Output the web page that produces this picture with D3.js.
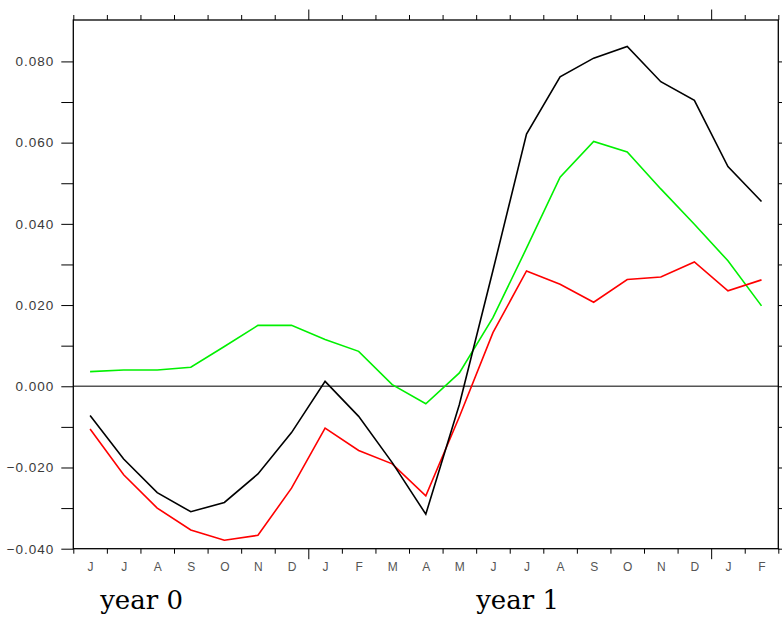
<!DOCTYPE html>
<html>
<head>
<meta charset="utf-8">
<script src="https://cdn.jsdelivr.net/npm/d3@7"></script>
<style>
  body { margin: 0; background: #fff; }
  svg { display: block; }
  .tick text { font-family: "Liberation Sans", Arial, sans-serif; fill: #333; }
</style>
</head>
<body>
<div id="chart"></div>
<script>
// dados (meses de Jun ano 0 ate Fev ano 2)
const meses = ["J","J","A","S","O","N","D","J","F","M","A","M","J","J","A","S","O","N","D","J","F"];
const serieBlack = [-0.0072,-0.0179,-0.0262,-0.0309,-0.0286,-0.0216,-0.0114,0.0012,-0.0074,-0.0188,-0.0315,-0.0045,0.0285,0.0621,0.0762,0.0808,0.0837,0.0750,0.0704,0.0541,0.0455];
const serieRed = [-0.0105,-0.0218,-0.0300,-0.0354,-0.0379,-0.0367,-0.0251,-0.0103,-0.0158,-0.0191,-0.0270,-0.0075,0.0132,0.0284,0.0251,0.0207,0.0263,0.0269,0.0306,0.0235,0.0262];
const serieGreen = [0.0036,0.0040,0.0040,0.0047,0.0098,0.0150,0.0150,0.0115,0.0086,0.0004,-0.0043,0.0033,0.0169,0.0340,0.0515,0.0603,0.0577,0.0486,0.0399,0.0309,0.0198];
const yLabels = [-0.04, -0.02, 0, 0.02, 0.04, 0.06, 0.08];
const yMinor = [-0.03, -0.01, 0.01, 0.03, 0.05, 0.07];
const anos = ["year 0", "year 1"];
const anoInicio = [0.8, 12.0]; // em unidades de mes

const W = 782, H = 617;
const margem = { left: 73.3, right: 778.3, top: 20, bottom: 548.7 };

const svg = d3.select("#chart").append("svg")
    .attr("width", W)
    .attr("height", H);

const x = d3.scaleLinear().domain([0, meses.length]).range([margem.left, margem.right]);
const y = d3.scaleLinear().domain([-0.04, 0.0902]).range([margem.bottom, margem.top]);

// eixo Y esquerdo (major + minor, para fora)
svg.append("g")
    .attr("transform", `translate(${margem.left},0)`)
    .call(d3.axisLeft(y).tickValues(yLabels).tickSize(12).tickPadding(7).tickFormat(d3.format(".3f")))
    .call(g => g.select(".domain").remove())
    .call(g => g.selectAll("text").style("font-size", "13.5px").style("letter-spacing", "1px").style("fill", "#3a3a3a"));

svg.append("g")
    .attr("transform", `translate(${margem.left},0)`)
    .call(d3.axisLeft(y).tickValues(yMinor).tickSize(12).tickFormat(""))
    .call(g => g.select(".domain").remove());

// eixo Y direito
svg.append("g")
    .attr("transform", `translate(${margem.right},0)`)
    .call(d3.axisRight(y).tickValues(yLabels.concat(yMinor)).tickSize(12).tickFormat(""))
    .call(g => g.select(".domain").remove());

// eixo X: ticks nas fronteiras dos meses
const fronteiras = d3.range(meses.length + 1);
const isJan = d => d === 7 || d === 19;

svg.append("g")
    .attr("transform", `translate(0,${margem.bottom})`)
    .call(d3.axisBottom(x).tickValues(fronteiras).tickSize(5).tickFormat(""))
    .call(g => g.select(".domain").remove())
    .call(g => g.selectAll(".tick line").attr("y2", d => isJan(d) ? 10.5 : 5));

svg.append("g")
    .attr("transform", `translate(0,${margem.top})`)
    .call(d3.axisTop(x).tickValues(fronteiras).tickSize(5).tickFormat(""))
    .call(g => g.select(".domain").remove())
    .call(g => g.selectAll(".tick line").attr("y2", d => isJan(d) ? -10.5 : -5));

// letras dos meses ao centro de cada intervalo
svg.append("g")
    .attr("transform", `translate(0,${margem.bottom})`)
    .call(d3.axisBottom(x).tickValues(meses.map((m, i) => i + 0.5)).tickSize(0).tickPadding(14)
        .tickFormat((d, i) => meses[i]))
    .call(g => g.select(".domain").remove())
    .call(g => g.selectAll("text").style("font-size", "12px").style("fill", "#555"));

// linha do zero
svg.append("line")
    .attr("x1", margem.left).attr("x2", margem.right)
    .attr("y1", y(0)).attr("y2", y(0))
    .attr("stroke", "#555")
    .attr("stroke-width", 1.3);

// moldura
svg.append("rect")
    .attr("x", margem.left).attr("y", margem.top)
    .attr("width", margem.right - margem.left).attr("height", margem.bottom - margem.top)
    .attr("fill", "none")
    .attr("stroke", "#000")
    .attr("stroke-width", 1.3);

const linha = d3.line()
    .x((d, i) => x(i + 0.5))
    .y(d => y(d));

const series = [
    { valores: serieGreen, cor: "#00f000" },
    { valores: serieRed, cor: "#ff0000" },
    { valores: serieBlack, cor: "#000000" }
];

svg.selectAll(".serie")
    .data(series)
    .enter()
    .append("path")
    .attr("class", "serie")
    .attr("d", d => linha(d.valores))
    .attr("fill", "none")
    .attr("stroke", d => d.cor)
    .attr("stroke-width", 1.6)
    .attr("stroke-linejoin", "miter");

// rotulos dos anos
svg.selectAll(".ano")
    .data(anos)
    .enter()
    .append("text")
    .attr("class", "ano")
    .attr("x", (d, i) => x(anoInicio[i]))
    .attr("y", 609)
    .attr("font-family", "'DejaVu Serif', serif")
    .attr("font-size", "26px")
    .attr("fill", "#000")
    .text(d => d);
</script>
</body>
</html>
